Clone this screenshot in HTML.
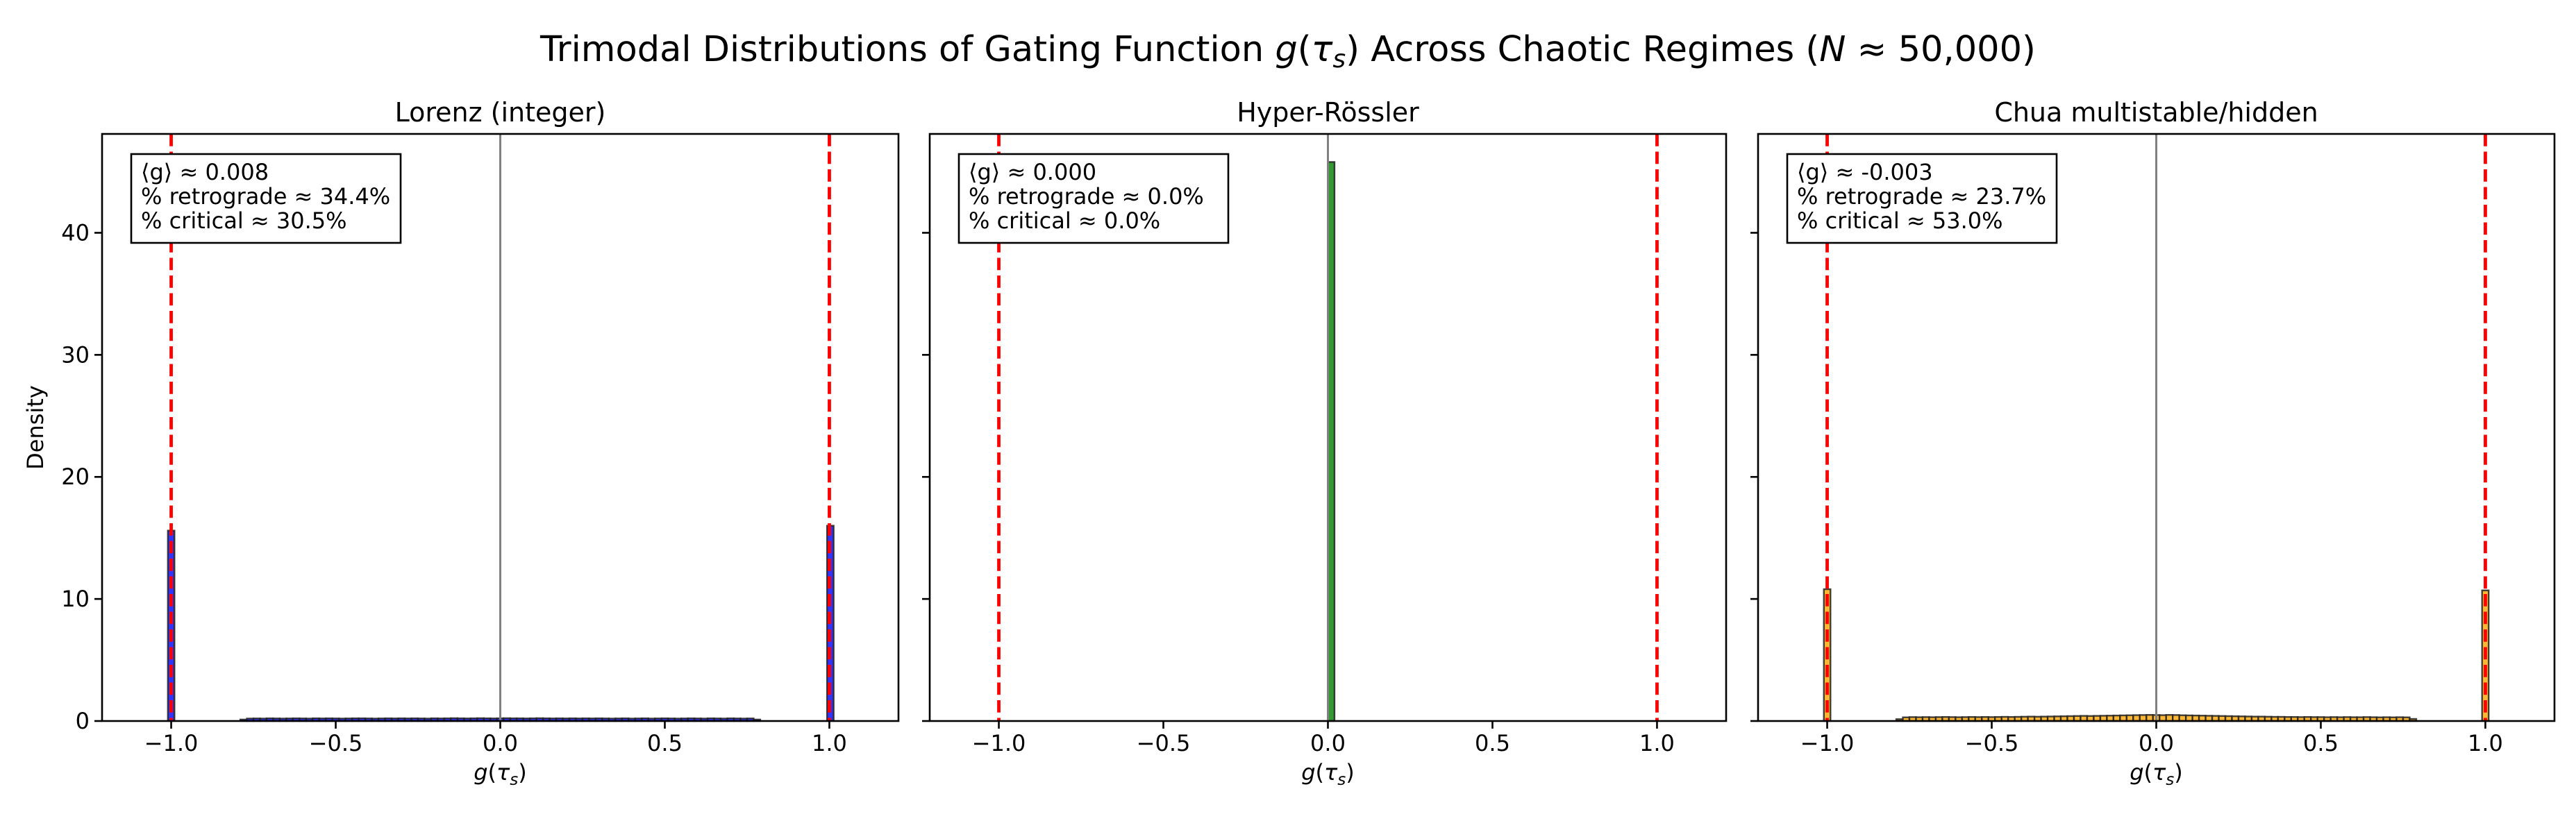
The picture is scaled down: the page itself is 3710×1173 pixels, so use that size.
<!DOCTYPE html>
<html><head><meta charset="utf-8">
<style>
html,body{margin:0;padding:0;background:#fff;}
svg{display:block;font-family:"DejaVu Sans","Liberation Sans",sans-serif;}
</style></head>
<body>
<svg id="fig" width="3710" height="1173" viewBox="0 0 3710 1173" xmlns="http://www.w3.org/2000/svg">
<rect width="3710" height="1173" fill="#fff"/>
<text x="1855" y="88" font-size="51" text-anchor="middle">Trimodal Distributions of Gating Function <tspan font-style="italic">g</tspan>(<tspan font-style="italic">τ</tspan><tspan font-style="italic" font-size="36" dy="9">s</tspan><tspan dy="-9">) Across Chaotic Regimes (</tspan><tspan font-style="italic">N</tspan> ≈ 50,000)</text>
<g id="plots"></g>
</svg>
<script>
// ---- data ----
const panelTitles = ["Lorenz (integer)", "Hyper-Rössler", "Chua multistable/hidden"];
const statMean = ["0.008", "0.000", "-0.003"];
const statRetro = ["34.4%", "0.0%", "23.7%"];
const statCrit = ["30.5%", "0.0%", "53.0%"];
const barColors = ["#3333ff", "#339933", "#ffb733"];
const binWidth = 0.02;
// peak bins: [left edge, density]
const lorenzPeaks = [[-1.01, 15.6], [0.993, 16.0]];
const hyperPeaks = [[0.0, 45.8]];
const chuaPeaks = [[-1.01, 10.8], [0.99, 10.7]];
// middle bins start at -0.79, width 0.02 (79 bins)
const midStart = -0.79;
const lorenzMid = [0.12,0.2,0.21,0.2,0.22,0.21,0.2,0.21,0.22,0.21,0.2,0.22,0.21,0.22,0.21,0.2,0.21,0.22,0.22,0.21,0.2,0.21,0.22,0.21,0.22,0.21,0.22,0.21,0.2,0.22,0.21,0.22,0.23,0.22,0.21,0.22,0.23,0.22,0.21,0.22,0.23,0.22,0.22,0.21,0.22,0.23,0.22,0.21,0.22,0.21,0.22,0.21,0.22,0.21,0.22,0.21,0.2,0.21,0.22,0.2,0.21,0.22,0.2,0.21,0.22,0.21,0.2,0.21,0.22,0.21,0.2,0.22,0.21,0.2,0.22,0.21,0.2,0.21,0.12];
const hyperMid = [];
const chuaMid = [0.15,0.3,0.32,0.31,0.32,0.31,0.32,0.33,0.32,0.31,0.32,0.33,0.32,0.33,0.32,0.33,0.34,0.33,0.34,0.35,0.36,0.35,0.36,0.37,0.38,0.39,0.4,0.41,0.42,0.41,0.42,0.43,0.44,0.45,0.46,0.47,0.48,0.49,0.5,0.49,0.48,0.5,0.49,0.47,0.46,0.45,0.44,0.43,0.42,0.41,0.4,0.39,0.38,0.37,0.36,0.36,0.35,0.34,0.34,0.33,0.33,0.32,0.33,0.32,0.32,0.31,0.32,0.31,0.32,0.31,0.31,0.32,0.31,0.3,0.31,0.3,0.31,0.3,0.17];
const peaksAll = [lorenzPeaks, hyperPeaks, chuaPeaks];
const midAll = [lorenzMid, hyperMid, chuaMid];
const xTicks = [-1.0, -0.5, 0.0, 0.5, 1.0];
const xTickLabels = ["−1.0", "−0.5", "0.0", "0.5", "1.0"];
const yTicks = [0, 10, 20, 30, 40];
const yTickLabels = ["0", "10", "20", "30", "40"];
const xMin = -1.21, xMax = 1.21, yMin = 0, yMax = 48.1;

// ---- layout ----
const NS = "http://www.w3.org/2000/svg";
const axLefts = [147, 1339, 2532];
const axW = 1147, axTop = 193, axBottom = 1039;
const root = document.getElementById('plots');
function mk(tag, attrs, parent) {
  const e = document.createElementNS(NS, tag);
  for (const k in attrs) e.setAttribute(k, attrs[k]);
  parent.appendChild(e);
  return e;
}
for (let p = 0; p < 3; p++) {
  const L = axLefts[p];
  const sx = v => L + (v - xMin) / (xMax - xMin) * axW;
  const sy = v => axBottom - (v - yMin) / (yMax - yMin) * (axBottom - axTop);
  const g = mk('g', {}, root);
  
  
  const bars = [];
  midAll[p].forEach((h, i) => bars.push([midStart + i * binWidth, h]));
  peaksAll[p].forEach(b => bars.push(b));
  bars.forEach((b, i) => {
    const x0 = sx(b[0]), x1 = sx(b[0] + binWidth);
    const r = mk('rect', {x: x0, y: sy(b[1]), width: x1 - x0, height: sy(0) - sy(b[1]),
      fill: barColors[p], stroke: '#222', 'stroke-opacity': 0.85, 'stroke-width': 2.4}, g);
    
    
  });
  const zl = mk('line', {x1: sx(0), x2: sx(0), y1: axTop, y2: axBottom, stroke: '#808080', 'stroke-width': 3}, g);
  
  
  [-1, 1].forEach(v => {
    const rl = mk('line', {x1: sx(v), x2: sx(v), y1: axTop, y2: axBottom, stroke: '#ff0000', 'stroke-width': 4.8, 'stroke-dasharray': '17.8 7.7'}, g);
    
    
  });
  const fr = mk('rect', {x: L, y: axTop, width: axW, height: axBottom - axTop, fill: 'none', stroke: '#000', 'stroke-width': 2.6}, g);
  
  
  xTicks.forEach((v, i) => {
    mk('line', {x1: sx(v), x2: sx(v), y1: axBottom, y2: axBottom + 11, stroke: '#000', 'stroke-width': 2.6}, g);
    const t = mk('text', {x: sx(v), y: axBottom + 43, 'font-size': 32, 'text-anchor': 'middle'}, g);
    t.textContent = xTickLabels[i];
    
    
  });
  yTicks.forEach((v, i) => {
    mk('line', {x1: L, x2: L - 11, y1: sy(v), y2: sy(v), stroke: '#000', 'stroke-width': 2.6}, g);
    if (p === 0) {
      const t = mk('text', {x: L - 18, y: sy(v) + 11, 'font-size': 32, 'text-anchor': 'end'}, g);
      t.textContent = yTickLabels[i];
      
      
    }
  });
  const st = mk('text', {x: L + axW / 2, y: 175, 'font-size': 38, 'text-anchor': 'middle'}, g);
  st.textContent = panelTitles[p];
  
  
  const xl = mk('text', {x: L + axW / 2, y: 1124, 'font-size': 32, 'text-anchor': 'middle'}, g);
  xl.innerHTML = '<tspan font-style="italic">g</tspan>(<tspan font-style="italic">τ</tspan><tspan font-style="italic" font-size="23" dy="7">s</tspan><tspan dy="-7">)</tspan>';
  
  
  const bx = L + 42;
  const box = mk('rect', {x: bx, y: 222, width: 388, height: 128, fill: '#fff', stroke: '#000', 'stroke-width': 2.6}, g);
  
  
  const lines = ['⟨g⟩ ≈ ' + statMean[p], '% retrograde ≈ ' + statRetro[p], '% critical ≈ ' + statCrit[p]];
  lines.forEach((s, i) => {
    const t = mk('text', {x: bx + 14, y: 259 + i * 35, 'font-size': 32}, g);
    t.textContent = s;
    
    
  });
}
const yl = mk('text', {x: 62, y: 616, 'font-size': 32, 'text-anchor': 'middle', transform: 'rotate(-90 62 616)'}, root);
yl.textContent = 'Density';


</script>
</body></html>
